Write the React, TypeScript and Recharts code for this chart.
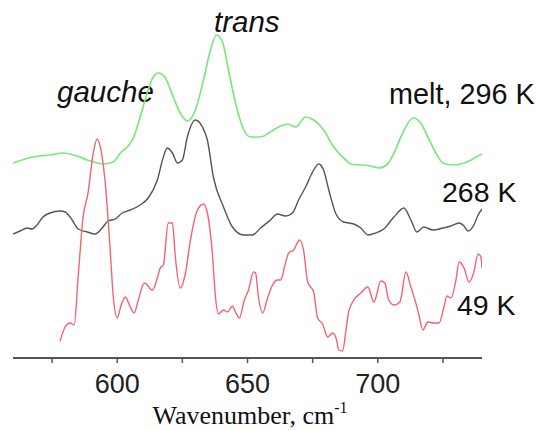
import React from "react";
import { LineChart, Line, XAxis, YAxis } from "recharts";

// Wavenumber (cm^-1) and intensity (arbitrary units, offset spectra)
const meltWn = [560, 567.7, 574.2, 579.2, 584.6, 588.5, 592.3, 594.6, 598.5, 601.2, 604.2, 606.2, 608.8, 611.5, 613.8, 615.8, 618.5, 621.5, 624.2, 626.9, 630, 633.1, 635.8, 638.1, 640.4, 642.7, 645.4, 648.1, 651.2, 655, 658.8, 662.7, 665.4, 668.5, 672.3, 675.4, 679.2, 683.1, 687.7, 689.6, 693.5, 697.3, 700.4, 703.8, 706.2, 709.6, 713.5, 716.5, 719.2, 722.3, 725, 728.8, 731.9, 735.8, 737.7, 740];
const meltI = [19.5, 20.1, 20.3, 20.5, 20.2, 19.8, 19.5, 19.4, 19.6, 20.5, 21.2, 22.0, 24.1, 26.5, 28.1, 28.5, 28.0, 26.1, 24.5, 23.7, 24.8, 27.8, 30.8, 32.3, 31.6, 28.8, 25.5, 23.1, 22.1, 22.1, 22.6, 23.2, 23.4, 23.1, 24.1, 23.8, 22.8, 21.1, 19.8, 19.4, 19.3, 19.2, 19.0, 19.4, 20.5, 22.5, 24.0, 23.5, 22.1, 20.5, 19.5, 19.3, 19.4, 19.8, 20.1, 20.4];

const k268Wn = [560, 562.7, 565.4, 567.3, 569.2, 571.5, 574.2, 578.1, 580, 582.7, 585, 588.5, 591.5, 594.2, 596.5, 599.2, 601.9, 605, 608.8, 611.9, 615.4, 617.7, 619.2, 621.2, 623.1, 625, 626.9, 630, 632.7, 634.6, 636.9, 640.8, 644.2, 648.5, 651.9, 655, 658.8, 661.5, 664.6, 667.3, 669.6, 672.3, 675, 677.3, 679.2, 681.2, 683.8, 686.9, 690.8, 693.5, 696.2, 699.2, 702.3, 706.2, 710, 712.7, 715, 717.7, 721.2, 725, 728.1, 731.2, 733.1, 734.6, 736.9, 738.5, 740];
const k268I = [12.4, 12.7, 13.0, 12.9, 13.3, 14.1, 14.5, 14.7, 14.6, 13.8, 12.9, 12.6, 12.4, 13.0, 13.7, 13.9, 14.5, 14.8, 15.3, 16.0, 17.8, 20.1, 21.0, 20.5, 19.5, 19.8, 22.1, 23.8, 23.1, 21.8, 18.1, 15.1, 13.1, 12.3, 12.3, 13.0, 13.8, 14.4, 14.2, 14.5, 15.8, 17.1, 18.6, 19.4, 18.8, 16.8, 14.5, 13.6, 13.4, 13.0, 12.3, 12.5, 12.9, 14.1, 15.0, 13.8, 12.6, 13.1, 12.8, 13.0, 13.2, 13.5, 13.2, 12.7, 13.3, 14.3, 14.9];

const k49Wn = [578.1, 580, 581.9, 583.5, 585, 586.9, 588.8, 590.8, 592.3, 593.5, 595.4, 597.3, 598.5, 600, 601.5, 603.1, 605, 606.5, 608.1, 610.4, 613.5, 615.4, 616.5, 617.7, 619.6, 621.2, 622.3, 624.2, 626.2, 628.1, 630.8, 633.1, 634.6, 636.5, 637.7, 638.8, 640.8, 642.3, 644.2, 645.4, 646.9, 648.8, 650.4, 652.3, 653.1, 654.2, 655.8, 657.7, 659.6, 661.5, 662.7, 664.2, 665.8, 667.7, 670, 671.5, 673.1, 675.4, 676.9, 678.8, 680.8, 682.7, 684.2, 685, 686.5, 687.7, 688.8, 690.8, 693.5, 696.2, 698.5, 701.2, 702.7, 704.2, 706.2, 708.5, 710.8, 712.7, 714.6, 715.8, 717.3, 719.2, 721.5, 723.5, 725.4, 726.5, 728.1, 730, 731.2, 733.1, 735, 736.9, 738.5, 739.6, 740];
const k49I = [1.7, 3.1, 3.5, 3.3, 8.1, 14.1, 16.5, 20.5, 21.9, 21.1, 17.5, 10.8, 6.1, 4.0, 5.3, 6.1, 5.1, 4.5, 5.8, 7.5, 6.8, 8.0, 9.0, 9.3, 13.5, 13.5, 10.1, 7.0, 8.5, 11.8, 14.8, 15.4, 14.5, 10.5, 6.1, 4.4, 4.8, 4.6, 5.2, 4.6, 4.0, 5.8, 6.8, 8.6, 8.5, 6.1, 4.5, 6.0, 7.3, 7.8, 7.8, 9.1, 10.5, 10.8, 11.8, 10.8, 7.6, 6.6, 4.0, 3.4, 2.1, 2.5, 1.8, 0.8, 0.7, 2.6, 4.6, 5.8, 6.5, 7.1, 5.6, 7.7, 7.5, 5.8, 5.3, 5.6, 8.6, 7.1, 5.5, 4.3, 2.8, 3.6, 3.5, 3.5, 5.1, 6.2, 6.0, 7.8, 9.6, 9.0, 7.6, 8.6, 10.4, 10.1, 9.0];

const xTicks = [575, 600, 625, 650, 675, 700, 725];
const labeledTicks = [600, 650, 700];

const toRows = (xs: number[], ys: number[]) => xs.map((x, i) => ({ x, y: ys[i] }));

const meltData = toRows(meltWn, meltI);
const k268Data = toRows(k268Wn, k268I);
const k49Data = toRows(k49Wn, k49I);

const SANS = "'Liberation Sans', Arial, sans-serif";
const SERIF = "'Liberation Serif', 'Times New Roman', serif";

const Tick = (props: any) => {
  const { x, y, payload } = props;
  if (!labeledTicks.includes(payload.value)) return <g />;
  return (
    <text x={x} y={y + 28} textAnchor="middle" fontFamily={SANS} fontSize={27} fill="#222">
      {payload.value}
    </text>
  );
};

export default function App() {
  return (
    <div style={{ position: "absolute", left: 0, top: 0, width: 540, height: 431, background: "#fff" }}>
      <LineChart width={540} height={431} margin={{ top: 8, right: 58, bottom: 33, left: 13 }}>
        <XAxis
          type="number"
          dataKey="x"
          domain={[560, 740]}
          ticks={xTicks}
          allowDataOverflow
          height={40}
          axisLine={{ stroke: "#555", strokeWidth: 2 }}
          tickLine={{ stroke: "#555", strokeWidth: 1.5 }}
          tickSize={5}
          tick={<Tick />}
          interval={0}
        />
        <YAxis type="number" dataKey="y" domain={[0, 35]} hide />
        <Line data={meltData} dataKey="y" type="monotone" stroke="#7ee67e" strokeWidth={1.7} dot={false} isAnimationActive={false} />
        <Line data={k268Data} dataKey="y" type="monotone" stroke="#555555" strokeWidth={1.4} dot={false} isAnimationActive={false} />
        <Line data={k49Data} dataKey="y" type="monotone" stroke="#f26470" strokeWidth={1.4} dot={false} isAnimationActive={false} />
        <text x={57} y={102} fontFamily={SANS} fontStyle="italic" fontSize={29.5} fill="#111">gauche</text>
        <text x={214} y={32} fontFamily={SANS} fontStyle="italic" fontSize={29.5} fill="#111">trans</text>
        <text x={389} y={104} fontFamily={SANS} fontSize={28.8} fill="#111">melt, 296 K</text>
        <text x={442} y={202} fontFamily={SANS} fontSize={28.5} fill="#111">268 K</text>
        <text x={457} y={315} fontFamily={SANS} fontSize={28.5} fill="#111">49 K</text>
        <text x={250} y={424} textAnchor="middle" fontFamily={SERIF} fontSize={26} fill="#111">
          Wavenumber, cm
          <tspan fontSize={16} dy={-11}>-1</tspan>
        </text>
      </LineChart>
    </div>
  );
}
